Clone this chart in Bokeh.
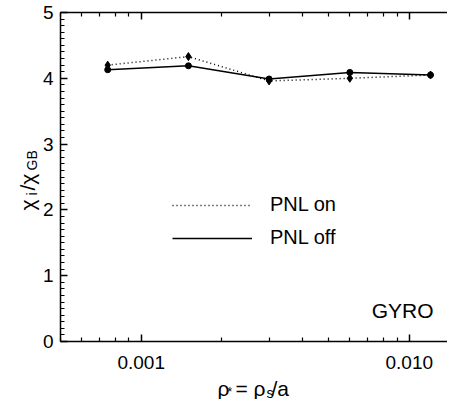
import math
from bokeh.plotting import figure
from bokeh.models import (Range1d, FixedTicker, SingleIntervalTicker, LogAxis, LinearAxis,
                          Legend, LegendItem, Label)
from bokeh.embed import file_html
from bokeh.resources import INLINE

# ---- data ----
rho_star = [0.00075, 0.0015, 0.003, 0.006, 0.012]
chi_pnl_on = [4.20, 4.33, 3.96, 4.00, 4.05]
chi_pnl_off = [4.13, 4.19, 3.99, 4.09, 4.05]
x_major_ticks = [0.001, 0.01]
x_tick_labels = ["0.001", "0.010"]
x_minor_ticks = [0.0005, 0.0006, 0.0007, 0.0008, 0.0009,
                 0.002, 0.003, 0.004, 0.005, 0.006, 0.007, 0.008, 0.009]
series_labels = ["PNL on", "PNL off"]
code_label = "GYRO"

# ---- layout: data box (0.0005..0.015, 0..5) placed in the canvas ----
FONT = "Liberation Sans"
W, H = 447, 399
X0, X1, Y0, Y1 = 0.0005, 0.015, 0.0, 5.0
box_l, box_r, box_t, box_b = 60, 456, 12, 341          # canvas pixels of the data box
dec = (box_r - box_l) / (math.log10(X1) - math.log10(X0))
xlo = 10 ** (math.log10(X0) - box_l / dec)
xhi = 10 ** (math.log10(X1) - (box_r - W) / dec)
upp = (box_b - box_t) / (Y1 - Y0)
ylo = Y0 - (H - box_b) / upp
yhi = Y1 + box_t / upp

p = figure(width=W, height=H, x_axis_type="log", title=None,
           x_range=Range1d(xlo, xhi), y_range=Range1d(ylo, yhi),
           output_backend="svg", toolbar_location=None, min_border=0)
p.background_fill_color = "white"
p.border_fill_color = "white"
p.outline_line_color = None
p.xgrid.visible = False
p.ygrid.visible = False


def style_axis(ax, labels=True):
    ax.axis_line_color = "black"
    ax.axis_line_width = 1.5
    ax.major_tick_line_color = "black"
    ax.minor_tick_line_color = "black"
    ax.major_tick_line_width = 1.5
    ax.minor_tick_line_width = 1.2
    ax.major_tick_in = 7
    ax.major_tick_out = 0
    ax.minor_tick_in = 4
    ax.minor_tick_out = 0
    if labels:
        ax.major_label_text_font = FONT
        ax.major_label_text_font_size = "19px"
        ax.major_label_text_color = "black"
    else:
        ax.major_label_text_font_size = "0px"
        ax.major_label_text_color = None


xa = p.xaxis[0]
xa.ticker = FixedTicker(ticks=x_major_ticks, minor_ticks=x_minor_ticks)
xa.major_label_overrides = {t: s for t, s in zip(x_major_ticks, x_tick_labels)}
xa.fixed_location = Y0
xa.bounds = (X0, X1)
style_axis(xa)
xa.major_label_standoff = 14

ya = p.yaxis[0]
ya.ticker = SingleIntervalTicker(interval=1, num_minor_ticks=10)
ya.fixed_location = X0
ya.bounds = (Y0, Y1)
style_axis(ya)
ya.major_label_standoff = 7

top = LogAxis(ticker=FixedTicker(ticks=x_major_ticks, minor_ticks=x_minor_ticks),
              fixed_location=Y1, bounds=(X0, X1))
style_axis(top, labels=False)
p.add_layout(top, "above")
right = LinearAxis(ticker=SingleIntervalTicker(interval=1, num_minor_ticks=10),
                   fixed_location=X1, bounds=(Y0, Y1))
style_axis(right, labels=False)
p.add_layout(right, "right")

# ---- series ----
l_on = p.line(rho_star, chi_pnl_on, line_color="black", line_width=1.5, line_dash="1 3")
p.scatter(rho_star, chi_pnl_on, marker="diamond", size=8, fill_color="black", line_color="black")
l_off = p.line(rho_star, chi_pnl_off, line_color="black", line_width=1.5)
p.scatter(rho_star, chi_pnl_off, marker="circle", size=6, fill_color="black", line_color="black")

legend = Legend(items=[LegendItem(label=series_labels[0], renderers=[l_on]),
                       LegendItem(label=series_labels[1], renderers=[l_off])],
                location=(172, H - 249))
legend.glyph_width = 80
legend.glyph_height = 20
legend.label_height = 20
legend.spacing = 10
legend.padding = 0
legend.margin = 0
legend.label_standoff = 18
legend.label_text_font = FONT
legend.label_text_font_size = "20px"
legend.label_text_color = "black"
legend.border_line_color = None
legend.background_fill_alpha = 0
p.add_layout(legend)


def lab(x, y, t, size, angle=0.0, align="left", baseline="alphabetic"):
    # x, y in canvas pixels from the top-left corner
    p.add_layout(Label(x=x, y=H - y, x_units="screen", y_units="screen", text=t,
                       text_align=align, text_baseline=baseline, angle=angle,
                       text_font=FONT, text_font_size=size, text_color="black"))


lab(433, 310, code_label, "21px", align="right", baseline="middle")

# x-axis label: rho_* = rho_s/a
by = 388
lab(217, by, "ρ", "21px")
lab(227, by + 3, "*", "12px")
lab(235, by, "= ρ", "21px")
lab(266, by + 4, "s", "14px")
lab(271, by, "/a", "21px")

# y-axis label: chi_i / chi_GB (rotated)
r = math.pi / 2
lab(27, 210, "χ", "21px", r)
lab(31, 195, "i", "14px", r)
lab(27, 190, "/χ", "21px", r)
lab(31, 170, "GB", "14px", r)

open("out.html", "w").write(file_html(p, INLINE))
